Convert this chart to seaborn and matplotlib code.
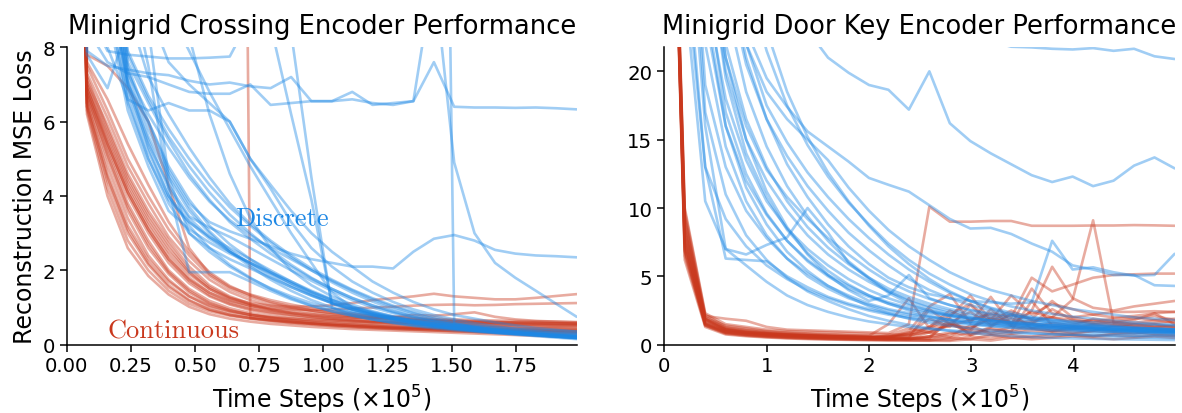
import matplotlib
matplotlib.use("Agg")
import matplotlib.pyplot as plt
import pandas as pd
import seaborn as sns

# ---------------------------------------------------------------- data
# Time steps (x 1e5) at which the reconstruction loss was logged
crossing_steps = [0.0, 0.079, 0.159, 0.238, 0.318, 0.397, 0.477, 0.556, 0.635,
                  0.715, 0.794, 0.874, 0.953, 1.033, 1.112, 1.191, 1.271, 1.350,
                  1.430, 1.509, 1.588, 1.668, 1.747, 1.827, 1.906, 1.986]
doorkey_steps = [0.0, 0.2, 0.4, 0.6, 0.8, 1.0, 1.2, 1.4, 1.6, 1.8, 2.0, 2.19,
                 2.39, 2.59, 2.79, 2.99, 3.19, 3.39, 3.59, 3.79, 3.99, 4.19,
                 4.39, 4.59, 4.79, 4.987]

# Minigrid Crossing, continuous-latent encoder runs
crossing_continuous = [
    [30, 6.3, 4.2, 2.8, 2.0, 1.45, 1.1, 0.9, 0.78, 0.7, 0.63, 0.58, 0.54, 0.5, 0.47, 0.44, 0.42, 0.4, 0.38, 0.36, 0.34, 0.32, 0.3, 0.28, 0.26, 0.24],
    [30, 6.4, 4.5, 3.1, 2.2, 1.6, 1.2, 0.95, 0.8, 0.72, 0.66, 0.6, 0.56, 0.52, 0.49, 0.46, 0.43, 0.41, 0.39, 0.37, 0.35, 0.33, 0.31, 0.3, 0.29, 0.28],
    [30, 6.5, 4.8, 3.4, 2.4, 1.75, 1.3, 1.02, 0.86, 0.76, 0.69, 0.63, 0.58, 0.54, 0.51, 0.48, 0.45, 0.43, 0.41, 0.39, 0.37, 0.35, 0.34, 0.33, 0.32, 0.31],
    [30, 6.6, 5.0, 3.6, 2.6, 1.9, 1.4, 1.1, 0.92, 0.8, 0.72, 0.66, 0.61, 0.57, 0.54, 0.51, 0.48, 0.46, 0.44, 0.42, 0.4, 0.39, 0.38, 0.37, 0.36, 0.35],
    [30, 6.7, 5.2, 3.8, 2.8, 2.0, 1.5, 1.18, 0.98, 0.85, 0.76, 0.7, 0.65, 0.61, 0.58, 0.55, 0.52, 0.5, 0.48, 0.46, 0.44, 0.43, 0.42, 0.41, 0.4, 0.39],
    [30, 6.8, 5.3, 4.0, 3.0, 2.2, 1.65, 1.3, 1.08, 0.93, 0.83, 0.76, 0.7, 0.66, 0.62, 0.59, 0.56, 0.54, 0.52, 0.5, 0.48, 0.47, 0.46, 0.45, 0.44, 0.43],
    [30, 6.9, 5.5, 4.2, 3.2, 2.4, 1.8, 1.4, 1.15, 1.0, 0.9, 0.82, 0.75, 0.7, 0.66, 0.62, 0.6, 0.58, 0.56, 0.54, 0.52, 0.51, 0.5, 0.49, 0.48, 0.47],
    [30, 7.0, 5.7, 4.4, 3.4, 2.6, 1.95, 1.5, 1.22, 1.05, 0.93, 0.85, 0.78, 0.73, 0.69, 0.65, 0.62, 0.6, 0.58, 0.56, 0.55, 0.54, 0.53, 0.52, 0.51, 0.5],
    [30, 7.1, 5.9, 4.6, 3.6, 2.8, 2.1, 1.6, 1.3, 1.1, 0.97, 0.88, 0.82, 0.77, 0.73, 0.7, 0.67, 0.65, 0.63, 0.61, 0.6, 0.59, 0.58, 0.57, 0.56, 0.55],
    [30, 7.3, 6.1, 4.8, 3.8, 2.9, 2.25, 1.75, 1.42, 1.2, 1.05, 0.95, 0.87, 0.81, 0.76, 0.72, 0.69, 0.67, 0.65, 0.63, 0.62, 0.61, 0.6, 0.59, 0.58, 0.57],
    [30, 7.8, 7.5, 6.9, 6.0, 4.3, 2.6, 1.9, 1.55, 1.35, 1.2, 1.08, 0.98, 0.9, 0.84, 0.78, 0.74, 0.7, 0.67, 0.65, 0.63, 0.61, 0.6, 0.59, 0.58, 0.57],
    [30, 40, 45, 50, 55, 58, 60, 60, 60, 0.72, 0.66, 0.62, 0.57, 0.53, 0.5, 0.47, 0.45, 0.43, 0.41, 0.39, 0.37, 0.36, 0.35, 0.34, 0.33, 0.32],
    [30, 7.0, 5.6, 4.3, 3.3, 2.5, 1.9, 1.5, 1.25, 1.12, 1.05, 1.02, 1.03, 1.06, 1.12, 1.2, 1.25, 1.3, 1.37, 1.3, 1.26, 1.22, 1.22, 1.26, 1.31, 1.36],
    [30, 6.9, 5.4, 4.1, 3.1, 2.3, 1.75, 1.4, 1.18, 1.05, 0.98, 0.95, 0.94, 0.95, 0.97, 1.0, 1.02, 1.05, 1.07, 1.08, 1.06, 1.07, 1.09, 1.1, 1.11, 1.12],
    [30, 6.2, 4.0, 2.6, 1.85, 1.35, 1.02, 0.82, 0.7, 0.62, 0.56, 0.52, 0.48, 0.45, 0.42, 0.4, 0.38, 0.36, 0.34, 0.32, 0.3, 0.28, 0.26, 0.24, 0.22, 0.2],
    [30, 7.5, 6.3, 5.0, 4.0, 3.1, 2.4, 1.85, 1.5, 1.28, 1.12, 1.0, 0.92, 0.86, 0.81, 0.77, 0.74, 0.72, 0.7, 0.68, 0.66, 0.65, 0.64, 0.63, 0.62, 0.61],
    [30, 6.5, 4.6, 3.2, 2.3, 1.7, 1.3, 1.05, 0.9, 0.8, 0.74, 0.7, 0.67, 0.65, 0.63, 0.61, 0.6, 0.59, 0.58, 0.57, 0.56, 0.55, 0.54, 0.53, 0.52, 0.52],
    [30, 6.8, 5.4, 4.1, 3.1, 2.3, 1.72, 1.33, 1.1, 0.96, 0.87, 0.8, 0.74, 0.69, 0.65, 0.61, 0.58, 0.55, 0.53, 0.51, 0.49, 0.47, 0.45, 0.44, 0.43, 0.42],
    [30, 7.2, 5.8, 4.5, 3.5, 2.7, 2.0, 1.55, 1.27, 1.08, 0.95, 0.86, 0.8, 0.76, 0.73, 0.71, 0.75, 0.8, 0.78, 0.82, 0.87, 0.75, 0.68, 0.64, 0.62, 0.6],
    [30, 6.4, 4.4, 3.0, 2.15, 1.55, 1.18, 0.94, 0.8, 0.71, 0.65, 0.6, 0.56, 0.53, 0.5, 0.48, 0.46, 0.44, 0.43, 0.42, 0.41, 0.4, 0.39, 0.38, 0.37, 0.36],
    [30, 7.6, 6.6, 5.4, 4.3, 3.3, 2.5, 1.95, 1.58, 1.33, 1.15, 1.02, 0.92, 0.84, 0.78, 0.73, 0.69, 0.66, 0.64, 0.62, 0.6, 0.58, 0.57, 0.56, 0.55, 0.54],
    [30, 6.7, 5.1, 3.7, 2.7, 1.95, 1.45, 1.12, 0.93, 0.81, 0.73, 0.67, 0.62, 0.58, 0.55, 0.52, 0.49, 0.47, 0.45, 0.43, 0.41, 0.4, 0.39, 0.38, 0.37, 0.36],
]

# Minigrid Crossing, discrete-latent encoder runs
crossing_discrete = [
    [40, 14, 10, 6.8, 5.2, 4.0, 3.2, 2.6, 2.15, 1.8, 1.5, 1.25, 1.05, 0.9, 0.78, 0.68, 0.6, 0.53, 0.47, 0.42, 0.37, 0.33, 0.29, 0.26, 0.23, 0.2],
    [40, 15, 11, 7.2, 5.6, 4.5, 3.6, 3.0, 2.5, 2.1, 1.75, 1.45, 1.2, 1.0, 0.86, 0.75, 0.66, 0.58, 0.51, 0.45, 0.4, 0.35, 0.31, 0.27, 0.24, 0.21],
    [40, 13, 9.5, 6.5, 5.0, 3.9, 3.3, 2.9, 2.6, 2.3, 2.0, 1.7, 1.42, 1.2, 1.02, 0.88, 0.76, 0.66, 0.57, 0.5, 0.44, 0.38, 0.33, 0.28, 0.24, 0.2],
    [40, 16, 12, 7.5, 6.0, 4.8, 3.9, 3.2, 2.7, 2.3, 1.95, 1.65, 1.38, 1.15, 0.96, 0.82, 0.7, 0.6, 0.52, 0.45, 0.39, 0.34, 0.3, 0.26, 0.22, 0.18],
    [40, 14, 10.5, 7.0, 5.5, 4.2, 3.4, 2.9, 2.5, 2.2, 1.9, 1.6, 1.35, 1.12, 0.94, 0.8, 0.68, 0.58, 0.5, 0.43, 0.37, 0.32, 0.27, 0.23, 0.19, 0.15],
    [40, 15, 11.5, 7.8, 6.6, 5.6, 4.8, 4.1, 3.5, 3.0, 2.55, 2.15, 1.8, 1.5, 1.25, 1.05, 0.88, 0.74, 0.62, 0.52, 0.44, 0.37, 0.31, 0.26, 0.22, 0.18],
    [40, 13, 9, 6.3, 4.8, 3.6, 3.1, 2.75, 2.45, 2.2, 1.95, 1.7, 1.45, 1.22, 1.02, 0.86, 0.73, 0.62, 0.53, 0.46, 0.4, 0.35, 0.3, 0.26, 0.22, 0.19],
    [40, 16, 12.5, 7.6, 6.5, 5.5, 4.6, 3.9, 3.3, 2.85, 2.45, 2.1, 1.78, 1.5, 1.26, 1.06, 0.9, 0.76, 0.64, 0.54, 0.46, 0.39, 0.33, 0.28, 0.24, 0.21],
    [40, 14, 10, 6.9, 5.4, 4.3, 3.45, 3.15, 2.9, 2.6, 2.3, 2.0, 1.72, 1.45, 1.2, 1.0, 0.85, 0.72, 0.62, 0.54, 0.47, 0.41, 0.36, 0.31, 0.27, 0.24],
    [40, 15, 11, 7.4, 5.8, 4.6, 3.7, 3.05, 2.55, 2.15, 1.82, 1.55, 1.32, 1.12, 0.95, 0.82, 0.72, 0.64, 0.57, 0.51, 0.46, 0.42, 0.38, 0.35, 0.32, 0.3],
    [40, 14, 10.5, 7.1, 5.3, 4.0, 3.3, 2.85, 2.5, 2.2, 1.92, 1.66, 1.42, 1.2, 1.0, 0.84, 0.71, 0.6, 0.51, 0.44, 0.38, 0.33, 0.29, 0.25, 0.21, 0.17],
    [40, 17, 13, 7.9, 6.7, 5.8, 5.0, 4.3, 3.7, 3.2, 2.75, 2.35, 2.0, 1.68, 1.4, 1.16, 0.96, 0.8, 0.66, 0.55, 0.46, 0.39, 0.33, 0.28, 0.24, 0.2],
    [40, 13, 9.2, 6.6, 5.0, 3.8, 3.0, 2.5, 2.1, 1.78, 1.52, 1.3, 1.12, 0.97, 0.85, 0.75, 0.66, 0.58, 0.51, 0.45, 0.4, 0.36, 0.32, 0.29, 0.26, 0.23],
    [40, 15, 11, 7.3, 6.2, 5.3, 4.5, 3.85, 3.35, 2.95, 2.6, 2.3, 2.0, 1.72, 1.46, 1.22, 1.02, 0.85, 0.7, 0.58, 0.48, 0.4, 0.33, 0.27, 0.22, 0.18],
    [40, 18, 14, 9, 7.2, 6.2, 5.3, 4.5, 3.8, 3.25, 2.8, 2.4, 2.05, 1.75, 1.48, 1.25, 1.05, 0.88, 0.74, 0.62, 0.52, 0.44, 0.37, 0.31, 0.26, 0.22],
    [40, 9.0, 7.9, 7.8, 7.75, 7.7, 7.7, 7.72, 7.75, 8.8, 10.5, 11, 11, 10.8, 10.6, 10.5, 10.4, 10.3, 40, 0.55, 0.5, 0.46, 0.43, 0.4, 0.38, 0.36],
    [40, 7.9, 7.5, 7.4, 7.3, 7.25, 7.1, 7.0, 7.05, 6.95, 6.9, 7.2, 6.55, 6.55, 6.8, 6.45, 6.5, 6.55, 10, 4.9, 3.0, 2.2, 1.8, 1.45, 1.1, 0.75],
    [40, 8.5, 7.6, 7.3, 7.2, 7.0, 6.8, 6.75, 6.75, 7.0, 6.45, 6.5, 6.55, 6.55, 6.6, 6.5, 6.45, 6.55, 7.6, 6.4, 6.38, 6.38, 6.37, 6.38, 6.36, 6.33],
    [40, 7.8, 6.9, 8.6, 9.5, 10, 10, 9.8, 9.6, 9.5, 8.6, 6.2, 3.9, 1.1, 0.9, 0.8, 0.7, 0.62, 0.55, 0.5, 0.45, 0.4, 0.36, 0.33, 0.3, 0.28],
    [40, 9, 8, 6.6, 6.3, 6.5, 6.3, 6.3, 6.0, 5.0, 4.3, 3.6, 3.0, 2.5, 2.1, 1.7, 1.4, 1.15, 0.95, 0.8, 0.7, 0.6, 0.52, 0.45, 0.4, 0.35],
    [40, 14, 10, 7.0, 6.0, 4.7, 3.8, 3.3, 3.05, 2.85, 2.65, 2.45, 2.3, 2.2, 2.1, 2.1, 2.05, 2.5, 2.85, 2.95, 2.8, 2.55, 2.45, 2.4, 2.38, 2.35],
    [40, 20, 14, 10, 7.5, 4.2, 1.95, 1.95, 1.95, 1.7, 1.45, 1.22, 1.05, 0.9, 0.78, 0.68, 0.6, 0.53, 0.47, 0.42, 0.38, 0.34, 0.3, 0.27, 0.24, 0.21],
    [40, 20, 15, 10, 8.5, 4.5, 3.0, 2.6, 2.3, 2.05, 1.8, 1.55, 1.32, 1.12, 0.95, 0.8, 0.68, 0.58, 0.5, 0.44, 0.39, 0.35, 0.31, 0.28, 0.25, 0.22],
    [40, 20, 15, 12, 10, 9, 7.9, 6.8, 5.8, 4.8, 3.9, 3.0, 2.2, 1.4, 1.0, 0.85, 0.74, 0.65, 0.57, 0.5, 0.44, 0.38, 0.33, 0.28, 0.24, 0.2],
    [40, 20, 15, 11, 9, 7.6, 7.0, 6.5, 6.0, 5.0, 4.2, 3.3, 2.6, 2.1, 1.7, 1.4, 1.15, 0.95, 0.8, 0.68, 0.58, 0.5, 0.43, 0.37, 0.32, 0.28],
    [40, 20, 15, 12, 10, 9, 8.3, 6.2, 4.6, 3.4, 2.6, 2.0, 1.6, 1.3, 1.08, 0.9, 0.76, 0.65, 0.56, 0.48, 0.42, 0.37, 0.32, 0.28, 0.25, 0.22],
    [40, 20, 16, 14, 12, 11, 10.5, 10, 9.5, 9.2, 9.0, 8.4, 4.5, 1.0, 0.8, 0.68, 0.58, 0.5, 0.44, 0.39, 0.35, 0.31, 0.28, 0.25, 0.22, 0.19],
]

# Minigrid Door Key, continuous-latent encoder runs
doorkey_continuous = [
    [60, 9.5, 2.1, 1.9, 1.75, 1.3, 1.1, 1.05, 1.0, 0.95, 0.9, 0.85, 1.5, 10.1, 9.0, 9.0, 9.05, 9.05, 8.7, 8.7, 8.7, 8.72, 8.72, 8.75, 8.73, 8.7],
    [60, 8.0, 1.8, 1.1, 0.9, 0.8, 0.72, 0.66, 0.62, 0.58, 0.55, 0.6, 0.9, 1.3, 2.5, 1.8, 2.2, 1.6, 2.4, 2.0, 3.3, 9.1, 1.6, 1.4, 1.5, 1.3],
    [60, 7.5, 1.6, 1.0, 0.85, 0.75, 0.68, 0.62, 0.58, 0.55, 0.52, 0.55, 0.7, 1.0, 1.4, 1.8, 2.3, 2.0, 4.9, 3.9, 4.4, 4.9, 5.1, 5.15, 5.2, 5.2],
    [60, 7.0, 1.5, 0.95, 0.8, 0.7, 0.62, 0.58, 0.54, 0.5, 0.48, 0.7, 1.2, 0.9, 1.5, 1.2, 2.0, 1.4, 2.5, 5.7, 3.4, 2.7, 2.5, 2.8, 3.0, 3.2],
    [60, 8.5, 1.9, 1.2, 1.0, 0.85, 0.76, 0.7, 0.65, 0.6, 0.55, 0.5, 1.0, 2.8, 3.7, 1.6, 3.5, 1.5, 4.1, 2.3, 2.0, 2.2, 2.4, 2.4, 2.45, 2.4],
    [60, 9.0, 2.0, 1.4, 1.2, 1.0, 0.9, 0.82, 0.76, 0.7, 0.65, 1.5, 3.4, 1.2, 2.0, 3.6, 1.8, 3.6, 2.2, 3.0, 2.6, 2.2, 2.0, 2.1, 2.3, 2.4],
    [60, 7.8, 1.7, 1.05, 0.88, 0.78, 0.7, 0.64, 0.6, 0.56, 0.53, 0.5, 0.8, 1.2, 1.6, 2.4, 1.4, 1.9, 1.5, 2.6, 1.8, 1.5, 1.6, 1.8, 2.3, 1.5],
    [60, 6.5, 1.4, 0.85, 0.7, 0.6, 0.52, 0.47, 0.43, 0.4, 0.38, 0.36, 0.4, 0.6, 0.9, 0.7, 1.1, 0.9, 1.2, 1.0, 1.1, 1.2, 1.1, 1.2, 1.3, 1.2],
    [60, 7.2, 1.5, 0.9, 0.74, 0.64, 0.57, 0.51, 0.47, 0.44, 0.41, 0.39, 0.5, 0.9, 0.6, 1.4, 0.8, 1.0, 1.5, 1.1, 0.9, 1.0, 1.4, 1.3, 1.1, 1.0],
    [60, 8.2, 1.8, 1.1, 0.92, 0.8, 0.72, 0.66, 0.61, 0.57, 0.54, 0.5, 0.48, 0.46, 1.9, 0.7, 1.3, 2.3, 1.2, 1.6, 1.4, 1.9, 1.7, 1.5, 1.6, 1.7],
    [60, 6.8, 1.4, 0.8, 0.66, 0.56, 0.49, 0.44, 0.4, 0.37, 0.35, 0.33, 0.32, 0.31, 0.5, 0.4, 0.7, 0.5, 0.6, 0.8, 0.7, 0.6, 0.8, 0.9, 0.8, 0.7],
    [60, 9.8, 2.2, 1.3, 1.1, 0.95, 0.85, 0.78, 0.72, 0.68, 0.64, 0.62, 0.6, 1.3, 2.2, 3.0, 1.7, 2.5, 1.8, 2.0, 1.6, 1.8, 1.5, 1.6, 1.8, 1.6],
    [60, 7.6, 1.6, 0.98, 0.82, 0.71, 0.63, 0.57, 0.53, 0.5, 0.47, 0.45, 0.43, 0.42, 0.8, 1.1, 0.9, 1.3, 1.2, 1.0, 1.3, 1.2, 1.0, 1.1, 1.2, 1.1],
    [60, 8.8, 1.9, 1.15, 0.95, 0.83, 0.74, 0.68, 0.63, 0.59, 0.56, 0.53, 0.51, 2.6, 1.5, 1.0, 2.6, 1.4, 1.6, 1.3, 1.2, 1.4, 1.3, 1.5, 1.3, 1.4],
    [60, 6.2, 1.3, 0.75, 0.62, 0.53, 0.46, 0.41, 0.38, 0.35, 0.33, 0.31, 0.3, 0.29, 0.28, 0.4, 0.3, 0.5, 0.4, 0.5, 0.6, 0.5, 0.4, 0.5, 0.6, 0.5],
    [60, 10, 2.3, 1.5, 1.3, 1.1, 1.0, 0.95, 0.9, 0.85, 0.8, 0.75, 0.72, 0.9, 1.4, 1.2, 1.9, 1.6, 1.7, 2.0, 1.8, 1.6, 1.7, 1.9, 2.1, 1.8],
    [60, 7.4, 1.55, 0.92, 0.77, 0.67, 0.6, 0.54, 0.5, 0.47, 0.44, 0.42, 0.4, 0.6, 0.5, 0.9, 0.7, 0.8, 1.0, 0.9, 0.8, 1.0, 0.9, 0.8, 1.0, 0.9],
    [60, 8.4, 1.85, 1.1, 0.9, 0.78, 0.7, 0.64, 0.59, 0.55, 0.52, 0.49, 0.47, 0.6, 1.6, 0.8, 1.2, 1.0, 3.2, 1.4, 1.3, 1.5, 1.4, 1.3, 1.4, 1.3],
    [60, 6.9, 1.45, 0.87, 0.72, 0.62, 0.55, 0.5, 0.46, 0.43, 0.4, 0.38, 0.36, 0.35, 0.34, 0.6, 0.45, 0.7, 0.55, 0.6, 0.75, 0.65, 0.7, 0.6, 0.7, 0.65],
    [60, 9.2, 2.0, 1.25, 1.05, 0.9, 0.8, 0.74, 0.68, 0.64, 0.6, 0.57, 0.8, 1.9, 1.3, 2.9, 1.5, 2.2, 1.9, 3.2, 2.0, 1.7, 1.9, 2.0, 1.8, 1.9],
]

# Minigrid Door Key, discrete-latent encoder runs
doorkey_discrete = [
    [90, 26, 10.5, 7.0, 5.8, 4.6, 3.6, 2.9, 2.4, 2.0, 1.7, 1.5, 1.3, 1.15, 1.05, 0.95, 0.9, 0.85, 0.8, 0.75, 0.72, 0.7, 0.68, 0.66, 0.64, 0.62],
    [90, 35, 16, 7.0, 6.6, 7.3, 7.85, 10.0, 8.2, 6.0, 4.8, 3.8, 3.0, 2.5, 2.1, 1.8, 1.6, 1.4, 1.3, 1.2, 1.1, 1.0, 0.95, 0.9, 0.85, 0.8],
    [90, 28, 13, 6.3, 6.2, 6.1, 5.0, 4.2, 3.5, 3.0, 2.6, 2.3, 2.05, 1.85, 1.7, 1.55, 1.45, 1.35, 1.25, 1.2, 1.15, 1.1, 1.05, 1.0, 0.98, 0.95],
    [90, 30, 13, 9.2, 7.2, 5.8, 4.8, 4.0, 3.4, 2.9, 2.5, 2.2, 1.95, 1.75, 1.6, 1.45, 1.35, 1.25, 1.18, 1.1, 1.05, 1.0, 0.95, 0.9, 0.88, 0.85],
    [90, 40, 19, 13, 9.8, 7.8, 6.3, 5.2, 4.3, 3.6, 3.0, 2.6, 2.3, 2.05, 1.85, 1.68, 1.55, 1.45, 1.35, 1.25, 1.18, 1.12, 1.06, 1.0, 0.96, 0.92],
    [90, 45, 24, 16, 12, 9.5, 7.6, 6.2, 5.1, 4.3, 3.6, 3.1, 2.7, 2.4, 2.15, 1.95, 1.78, 1.62, 1.5, 1.4, 1.3, 1.22, 1.15, 1.1, 1.05, 1.0],
    [90, 45, 26, 18, 13.5, 10.5, 8.5, 7.0, 5.8, 4.8, 4.0, 3.4, 2.9, 2.5, 2.2, 1.95, 1.75, 1.6, 1.48, 1.38, 1.3, 1.22, 1.15, 1.08, 1.02, 0.98],
    [90, 50, 30, 20, 15, 12, 9.8, 8.0, 6.6, 5.5, 4.6, 3.9, 3.3, 2.8, 2.45, 2.15, 1.9, 1.7, 1.55, 1.42, 1.32, 1.24, 1.16, 1.1, 1.04, 0.98],
    [90, 50, 32, 22, 16.5, 13, 10.5, 8.6, 7.1, 5.9, 4.9, 4.1, 3.5, 3.0, 2.6, 2.3, 2.05, 1.85, 1.68, 1.55, 1.44, 1.35, 1.27, 1.2, 1.14, 1.08],
    [90, 55, 38, 27, 20.5, 16.5, 13.8, 11.6, 9.8, 8.2, 6.9, 5.8, 4.8, 4.0, 3.4, 2.9, 2.5, 2.2, 1.95, 1.75, 1.58, 1.45, 1.34, 1.25, 1.18, 1.12],
    [90, 50, 30, 21, 16, 12.8, 10.8, 9.2, 7.8, 6.6, 5.5, 4.6, 3.9, 3.35, 2.9, 2.55, 2.3, 2.1, 1.95, 1.82, 1.72, 1.64, 1.57, 1.5, 1.45, 1.4],
    [90, 60, 42, 29, 22, 17.5, 14.8, 12.6, 10.8, 9.2, 7.8, 6.6, 5.5, 4.6, 3.8, 3.2, 2.7, 2.35, 2.05, 1.82, 1.64, 1.5, 1.38, 1.28, 1.2, 1.14],
    [90, 60, 45, 30, 23, 19.5, 17.4, 15.6, 14.5, 13.4, 12.2, 11.7, 11.2, 10.2, 9.2, 8.5, 8.55, 8.1, 7.4, 6.8, 5.8, 5.5, 5.1, 5.1, 4.35, 4.3],
    [90, 70, 55, 45, 38, 33, 28, 23, 21, 19.9, 19.0, 18.65, 17.2, 20.0, 16.2, 14.9, 14.0, 13.2, 12.4, 11.9, 12.3, 11.6, 12.0, 13.1, 13.7, 12.9],
    [90, 80, 60, 45, 35, 30, 27, 25, 24, 23.5, 23.2, 23, 22.8, 22.6, 22.5, 22.4, 22.2, 21.8, 21.75, 21.65, 21.6, 21.7, 21.5, 21.65, 21.1, 20.9],
    [90, 60, 40, 28, 21, 16.5, 13.2, 10.8, 8.8, 7.2, 5.9, 4.9, 4.2, 3.7, 3.4, 3.2, 3.1, 3.0, 3.1, 7.6, 5.5, 5.66, 5.3, 5.05, 5.1, 6.65],
    [90, 55, 32, 21, 15, 11.2, 8.6, 6.6, 5.1, 4.0, 3.2, 3.6, 5.1, 3.4, 2.9, 2.5, 2.2, 2.0, 1.8, 1.65, 1.5, 1.4, 1.3, 1.2, 1.15, 1.1],
    [90, 65, 50, 36, 27, 21.5, 17.5, 14.6, 12.3, 10.4, 8.8, 7.4, 6.2, 5.2, 4.4, 3.7, 3.2, 2.8, 2.5, 2.25, 2.05, 1.9, 1.76, 1.64, 1.54, 1.45],
    [90, 45, 22, 14.5, 10.5, 8.0, 6.3, 5.0, 4.1, 3.4, 2.9, 2.5, 2.2, 2.0, 1.82, 1.68, 1.56, 1.46, 1.38, 1.3, 1.24, 1.18, 1.12, 1.08, 1.04, 1.0],
    [90, 50, 27, 17, 12.5, 9.6, 7.6, 6.1, 5.0, 4.1, 3.5, 3.0, 2.6, 2.3, 2.1, 1.9, 1.75, 1.62, 1.52, 1.43, 1.36, 1.3, 1.24, 1.2, 1.16, 1.12],
    [90, 40, 17, 11, 8.0, 6.2, 4.9, 3.9, 3.2, 2.6, 2.1, 1.75, 1.45, 1.2, 1.0, 0.85, 0.72, 0.62, 0.55, 0.5, 0.46, 0.43, 0.4, 0.38, 0.36, 0.34],
    [90, 48, 25, 16, 11.5, 8.8, 6.8, 5.4, 4.3, 3.5, 2.8, 2.3, 1.9, 1.6, 1.38, 1.2, 1.06, 0.95, 0.86, 0.78, 0.72, 0.66, 0.6, 0.55, 0.51, 0.48],
    [90, 52, 30, 19.5, 14, 10.8, 8.4, 6.7, 5.4, 4.4, 3.6, 3.0, 2.5, 2.1, 1.8, 1.56, 1.38, 1.24, 1.12, 1.02, 0.94, 0.88, 0.82, 0.77, 0.73, 0.7],
    [90, 58, 38, 25, 18.5, 14.5, 11.6, 9.4, 7.6, 6.1, 4.9, 3.9, 3.2, 2.7, 2.3, 2.0, 1.75, 1.55, 1.4, 1.28, 1.18, 1.1, 1.03, 0.97, 0.92, 0.88],
    [90, 65, 50, 40, 30, 23, 18.5, 15.2, 12.6, 10.5, 8.7, 7.2, 5.9, 4.8, 3.9, 3.2, 2.65, 2.2, 1.85, 1.6, 1.4, 1.25, 1.12, 1.02, 0.95, 0.9],
    [90, 62, 42, 30, 22, 18.5, 16.5, 15, 13.5, 11.5, 9.8, 8.4, 7.2, 6.2, 5.3, 4.6, 4.0, 3.6, 3.2, 2.9, 2.6, 2.4, 2.2, 2.0, 1.9, 1.8],
]

# ---------------------------------------------------------------- style
RED = "#C9381D"
BLUE = "#1E88E5"
palette = {"Continuous": RED, "Discrete": BLUE}

sns.set_style("ticks")
plt.rcParams.update({
    "font.family": ["DejaVu Sans"],
    "mathtext.fontset": "dejavusans",
    "axes.linewidth": 1.1,
    "text.color": "black",
    "axes.labelcolor": "black",
    "axes.edgecolor": "black",
    "xtick.color": "black",
    "ytick.color": "black",
})


def long_table(steps, continuous, discrete):
    rows = []
    for label, runs in (("Continuous", continuous), ("Discrete", discrete)):
        for i, run in enumerate(runs):
            for s, v in zip(steps, run):
                rows.append((s, v, label, f"{label}-{i}"))
    return pd.DataFrame(rows, columns=["step", "loss", "encoder", "run"])


fig = plt.figure(figsize=(11.82, 4.14), dpi=100)
ax_left = fig.add_axes([0.0564, 0.165, 0.4315, 0.7184])
ax_right = fig.add_axes([0.5620, 0.165, 0.4318, 0.7184])

panels = [
    (ax_left, crossing_steps, crossing_continuous, crossing_discrete,
     "Minigrid Crossing Encoder Performance", (0, 1.986), (0, 8),
     [0.0, 0.25, 0.5, 0.75, 1.0, 1.25, 1.5, 1.75], [0, 2, 4, 6, 8], "{:.2f}"),
    (ax_right, doorkey_steps, doorkey_continuous, doorkey_discrete,
     "Minigrid Door Key Encoder Performance", (0, 4.987), (0, 21.76),
     [0, 1, 2, 3, 4], [0, 5, 10, 15, 20], "{:.0f}"),
]

for ax, steps, cont, disc, title, xlim, ylim, xt, yt, fmt in panels:
    df = long_table(steps, cont, disc)
    sns.lineplot(data=df, x="step", y="loss", hue="encoder", units="run",
                 estimator=None, sort=False, hue_order=["Continuous", "Discrete"],
                 palette=palette, alpha=0.42, linewidth=1.9, legend=False, ax=ax)
    ax.set_xlim(*xlim)
    ax.set_ylim(*ylim)
    ax.set_xticks(xt)
    ax.set_xticklabels([fmt.format(t) for t in xt])
    ax.set_yticks(yt)
    ax.tick_params(labelsize=14.2, length=5, width=1.1)
    ax.set_title(title, fontsize=18.5, pad=10)
    ax.set_xlabel(r"Time Steps ($\times 10^5$)", fontsize=17, labelpad=5)
    ax.set_ylabel("")
    sns.despine(ax=ax)

ax_left.set_ylabel("Reconstruction MSE Loss", fontsize=17, labelpad=4)

# Inline group labels
ax_left.text(0.655, 3.4, "Discrete", color=BLUE, fontfamily="cmr10",
             fontsize=19, ha="left", va="center")
ax_left.text(0.16, 0.37, "Continuous", color=RED, fontfamily="cmr10",
             fontsize=19, ha="left", va="center")

fig.savefig("out.png", dpi=100)
